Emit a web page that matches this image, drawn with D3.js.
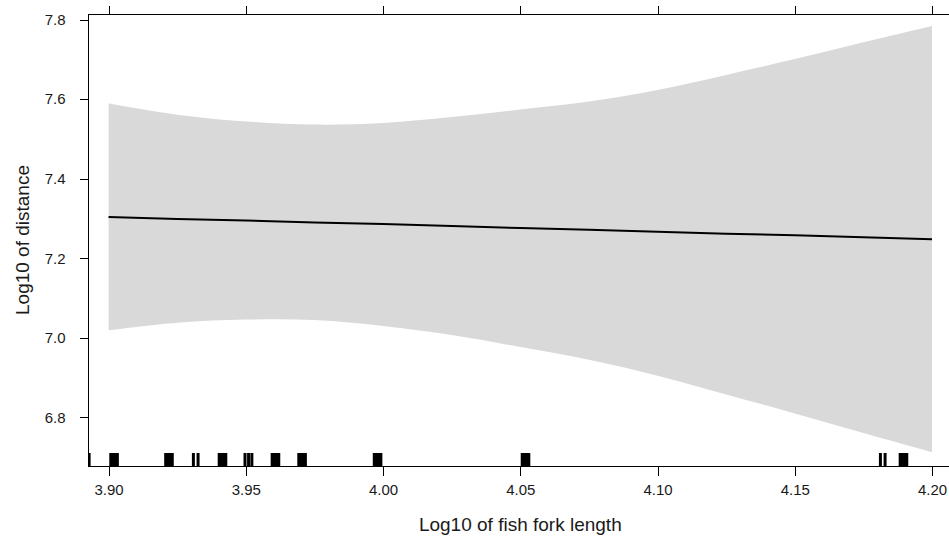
<!DOCTYPE html>
<html>
<head>
<meta charset="utf-8">
<script src="https://cdn.jsdelivr.net/npm/d3@7"></script>
<style>
  html, body { margin: 0; padding: 0; background: #fff; }
  svg { display: block; font-family: "Liberation Sans", Arial, sans-serif; }
</style>
</head>
<body>
<svg id="chart" width="949" height="540"></svg>
<script>
// ---- data ----
const gridX = [3.900, 3.925, 3.950, 3.975, 4.000, 4.025, 4.050, 4.075, 4.100, 4.125, 4.150, 4.175, 4.200];
const fitY   = [7.304, 7.299, 7.295, 7.290, 7.286, 7.281, 7.276, 7.272, 7.267, 7.262, 7.258, 7.253, 7.248];
const upperY = [7.589, 7.561, 7.544, 7.536, 7.540, 7.555, 7.574, 7.594, 7.623, 7.661, 7.701, 7.743, 7.784];
const lowerY = [7.019, 7.038, 7.046, 7.045, 7.030, 7.007, 6.977, 6.945, 6.905, 6.858, 6.810, 6.761, 6.713];
const rugValues = [
  3.8929,
  3.9008, 3.9016, 3.9024, 3.9032,
  3.9208, 3.9216, 3.9224, 3.9232,
  3.9309, 3.9326,
  3.9403, 3.9411, 3.9419, 3.9427,
  3.9497, 3.9510, 3.9522,
  3.9596, 3.9604, 3.9612, 3.9620,
  3.9693, 3.9701, 3.9709, 3.9717,
  3.9968, 3.9976, 3.9984, 3.9992,
  4.0507, 4.0515, 4.0523, 4.0531,
  4.1812, 4.1829,
  4.1884, 4.1892, 4.1900, 4.1908
];
const xTicks = [3.90, 3.95, 4.00, 4.05, 4.10, 4.15, 4.20];
const yTicks = [6.8, 7.0, 7.2, 7.4, 7.6, 7.8];
const xTitle = "Log10 of fish fork length";
const yTitle = "Log10 of distance";

// ---- layout ----
const svg = d3.select("#chart");
const L = 88, T = 14, B = 466, R = 952.6;
const x = d3.scaleLinear().domain([3.8925, 4.2075]).range([L, R]);
const y = d3.scaleLinear().domain([6.678, 7.814]).range([B, T]);

svg.append("defs").append("clipPath").attr("id", "clip")
  .append("rect").attr("x", L).attr("y", T).attr("width", R - L).attr("height", B - T);

const pts = gridX.map((v, i) => ({x: v, fit: fitY[i], lo: lowerY[i], hi: upperY[i]}));

const plot = svg.append("g").attr("clip-path", "url(#clip)");

// confidence band
plot.append("path")
  .datum(pts)
  .attr("fill", "#d9d9d9")
  .attr("d", d3.area().x(d => x(d.x)).y0(d => y(d.lo)).y1(d => y(d.hi)).curve(d3.curveCatmullRom.alpha(0.5)));

// fitted line
plot.append("path")
  .datum(pts)
  .attr("fill", "none")
  .attr("stroke", "#000")
  .attr("stroke-width", 2)
  .attr("d", d3.line().x(d => x(d.x)).y(d => y(d.fit)));

// rug
plot.append("g").selectAll("line").data(rugValues).join("line")
  .attr("x1", d => x(d)).attr("x2", d => x(d))
  .attr("y1", B - 13).attr("y2", B)
  .attr("stroke", "#000").attr("stroke-width", 3);

// frame
const frame = svg.append("g").attr("fill", "none").attr("stroke", "#000").attr("stroke-width", 1)
  .attr("shape-rendering", "crispEdges");
frame.append("rect").attr("x", L + 0.5).attr("y", T + 0.5).attr("width", R - L).attr("height", B - T);

// axes
const fmt2 = d3.format(".2f"), fmt1 = d3.format(".1f");
const xb = svg.append("g").attr("transform", `translate(0,${B + 0.5})`)
  .call(d3.axisBottom(x).tickValues(xTicks).tickFormat(fmt2).tickSize(9).tickSizeOuter(0).tickPadding(9));
const xt = svg.append("g").attr("transform", `translate(0,${T + 0.5})`)
  .call(d3.axisTop(x).tickValues(xTicks).tickFormat("").tickSize(9).tickSizeOuter(0));
const yl = svg.append("g").attr("transform", `translate(${L + 0.5},0)`)
  .call(d3.axisLeft(y).tickValues(yTicks).tickFormat(fmt1).tickSize(9).tickSizeOuter(0).tickPadding(14));

[xb, xt, yl].forEach(g => {
  g.select(".domain").remove();
  g.selectAll(".tick line").attr("stroke", "#000").attr("shape-rendering", "crispEdges");
  g.selectAll(".tick text").attr("fill", "#1a1a1a").style("font-size", "15px")
    .style("font-family", "'Liberation Sans', Arial, sans-serif");
});

// titles
svg.append("text")
  .attr("x", (L + R) / 2).attr("y", 531)
  .attr("text-anchor", "middle")
  .attr("fill", "#1a1a1a")
  .style("font-size", "19px")
  .text(xTitle);

svg.append("text")
  .attr("transform", `translate(29,${(T + B) / 2}) rotate(-90)`)
  .attr("text-anchor", "middle")
  .attr("fill", "#1a1a1a")
  .style("font-size", "19px")
  .text(yTitle);
</script>
</body>
</html>
